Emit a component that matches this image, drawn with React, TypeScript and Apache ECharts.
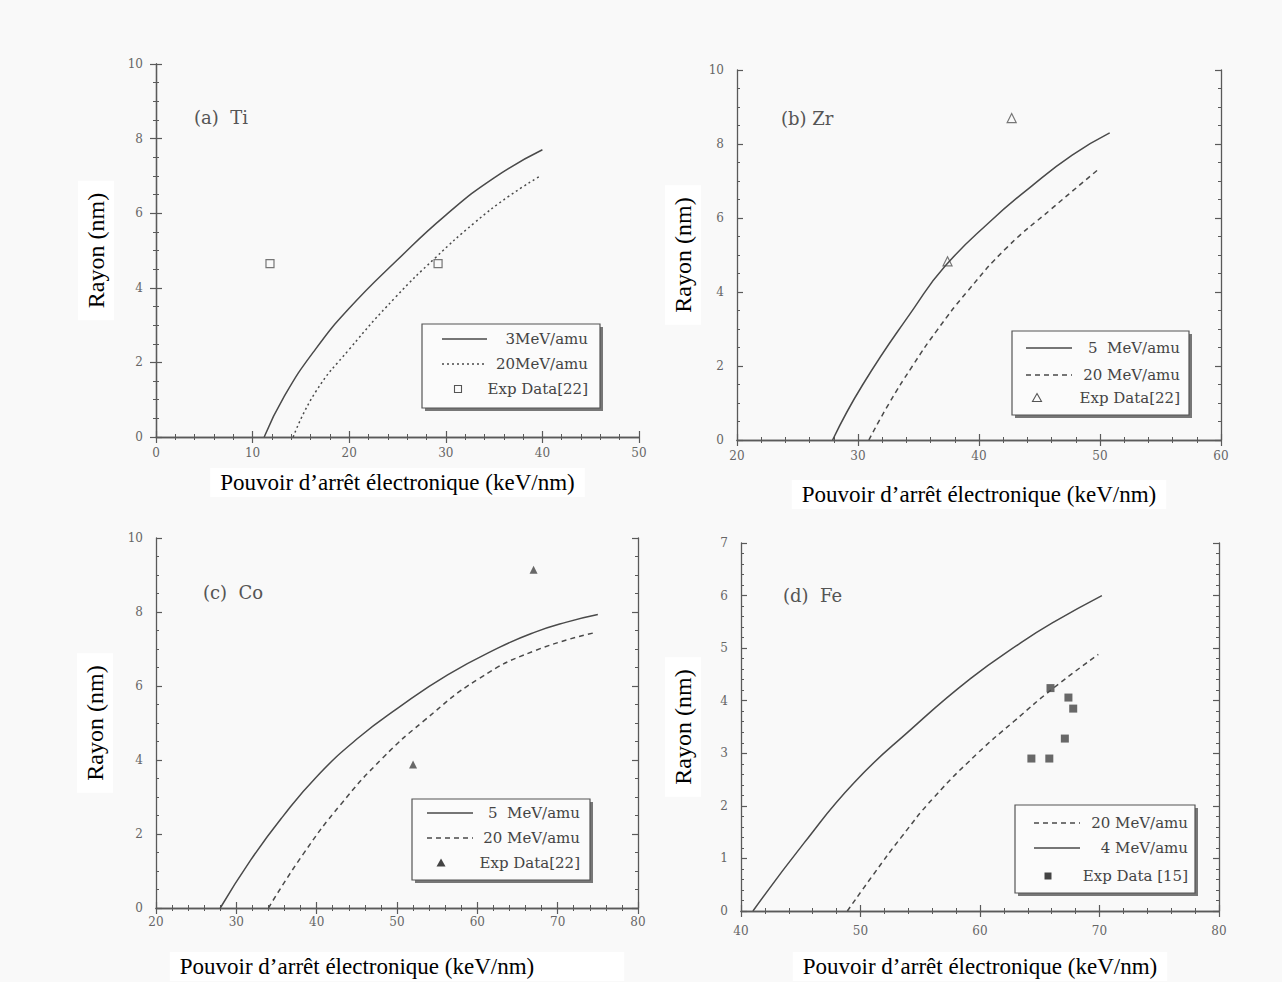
import React, { useEffect, useRef } from "react";
import * as echarts from "echarts";

// ---------- data ----------
// (a) Ti
const tiSolid3 = [[11.2, 0], [13.3, 1.1], [16.5, 2.35], [20, 3.45], [25, 4.75], [30, 5.95], [35, 6.95], [40, 7.7]];
const tiDot20 = [[14.2, 0], [16.5, 1.2], [20, 2.35], [24.8, 3.75], [28.9, 4.8], [33, 5.75], [36.5, 6.45], [39.8, 7.0]];
const tiExp = [[11.8, 4.65], [29.2, 4.65]];
// (b) Zr
const zrSolid5 = [[27.9, 0], [30.4, 1.5], [34.6, 3.55], [37.2, 4.7], [40.9, 5.9], [44.3, 6.85], [47.7, 7.7], [50.8, 8.3]];
const zrDash20 = [[30.9, 0], [32.5, 0.95], [34.5, 2.0], [36.5, 2.95], [39, 4.0], [42.3, 5.2], [46, 6.25], [50, 7.35]];
const zrExp = [[42.7, 8.7], [37.4, 4.83]];
// (c) Co
const coSolid5 = [[28, 0], [31.8, 1.3], [35.7, 2.45], [40, 3.55], [45.2, 4.6], [50.1, 5.4], [56.3, 6.3], [62.8, 7.05], [67.1, 7.45], [71, 7.72], [75, 7.93]];
const coDash20 = [[34, 0], [38.3, 1.45], [43, 2.8], [48.2, 4.05], [53.3, 5.05], [60.2, 6.2], [67.1, 6.95], [74.8, 7.45]];
const coExp = [[67.0, 9.14], [52.0, 3.88]];
// (d) Fe
const feDash20 = [[48.9, 0], [51.1, 0.7], [53.4, 1.4], [56.1, 2.15], [59.8, 3.0], [62.8, 3.6], [66.2, 4.25], [69.9, 4.88]];
const feSolid4 = [[41.0, 0], [45.3, 1.3], [49.5, 2.45], [54.2, 3.45], [59.2, 4.42], [63.4, 5.1], [66.2, 5.5], [70.2, 6.0]];
const feExp = [[65.9, 4.24], [67.4, 4.06], [67.8, 3.85], [67.1, 3.28], [64.3, 2.9], [65.8, 2.9]];

// legend labels per panel (solid/dashed/markers order as in the reference)
const legendA = ["3MeV/amu", "20MeV/amu", "Exp Data[22]"];
const legendB = ["5  MeV/amu", "20 MeV/amu", "Exp Data[22]"];
const legendC = ["5  MeV/amu", "20 MeV/amu", "Exp Data[22]"];
const legendD = ["20 MeV/amu", "4 MeV/amu", "Exp Data [15]"];

const panelLabels = ["(a)  Ti", "(b) Zr", "(c)  Co", "(d)  Fe"];
const xTitle = "Pouvoir d\u2019arr\u00eat \u00e9lectronique (keV/nm)";
const yTitle = "Rayon (nm)";

// ---------- layout ----------
const grids = [
  { left: 156, top: 64, width: 483, height: 373 },
  { left: 737, top: 70, width: 484, height: 370 },
  { left: 156, top: 538, width: 482, height: 371 },
  { left: 741, top: 543, width: 478, height: 369 },
];
const xRanges = [[0, 50], [20, 60], [20, 80], [40, 80]];
const yRanges = [[0, 10, 2], [0, 10, 2], [0, 10, 2], [0, 7, 1]];
const yNameGap = [42, 36, 43, 40];
const xNameGap = [31, 40, 44, 41];
const xLabelMargin = [10, 10, 8, 14];

const SERIF = "'Liberation Serif', 'DejaVu Serif', serif";
const SCAN = "'DejaVu Serif', 'Liberation Serif', serif";
const AX = "#5a5a5a";
const LINE = "#4a4a4a";
const BG = "#f9f9f9";

const styleKinds: any = {
  solid: null,
  dot: [2, 3],
  dash: [5, 4],
};

// legend boxes: box rect, row y's, sample x-range, text right edge, marker x
const legendBoxes = [
  { x: 422, y: 324, w: 178, h: 84, rows: [339, 364, 389], sx: [442, 487], tr: 588, mx: 458 },
  { x: 1012, y: 331, w: 177, h: 84, rows: [348, 375, 398], sx: [1026, 1072], tr: 1180, mx: 1037 },
  { x: 412, y: 799, w: 178, h: 81, rows: [813, 838, 863], sx: [427, 473], tr: 580, mx: 441 },
  { x: 1015, y: 805, w: 180, h: 88, rows: [823, 848, 876], sx: [1034, 1080], tr: 1188, mx: 1048 },
];

function buildOption() {
  const xAxis: any[] = [];
  const yAxis: any[] = [];
  grids.forEach((g, i) => {
    const [xmin, xmax] = xRanges[i];
    const [ymin, ymax, yint] = yRanges[i];
    const common = {
      gridIndex: i,
      splitLine: { show: false },
      axisLine: { show: true, lineStyle: { color: AX, width: 1.3 } },
      axisTick: { show: true, inside: true, length: 6, lineStyle: { color: AX, width: 1.2 } },
      minorTick: { show: true, splitNumber: 5, length: 3, lineStyle: { color: AX, width: 1 } },
    };
    xAxis.push({
      ...common,
      type: "value",
      position: "bottom",
      min: xmin,
      max: xmax,
      interval: 10,
      axisLabel: { color: "#666", fontFamily: SCAN, fontSize: 12, margin: xLabelMargin[i], showMinLabel: true, showMaxLabel: true },
      name: xTitle,
      nameLocation: "middle",
      nameGap: xNameGap[i],
      nameTextStyle: {
        color: "#000",
        fontFamily: SERIF,
        fontSize: 23,
        backgroundColor: "#ffffff",
        padding: i === 2 ? [3, 90, 3, 10] : [3, 10, 3, 10],
      },
    });
    xAxis.push({
      ...common,
      type: "value",
      position: "top",
      min: xmin,
      max: xmax,
      interval: 10,
      axisLabel: { show: false },
    });
    yAxis.push({
      ...common,
      type: "value",
      position: "left",
      min: ymin,
      max: ymax,
      interval: yint,
      minorTick: { ...common.minorTick, splitNumber: i === 3 ? 5 : 4 },
      axisLabel: { color: "#666", fontFamily: SCAN, fontSize: 12, margin: 13 },
      name: yTitle,
      nameLocation: "middle",
      nameGap: yNameGap[i],
      nameTextStyle: {
        color: "#000",
        fontFamily: SERIF,
        fontSize: 24,
        backgroundColor: "#ffffff",
        padding: [6, 12, 6, 12],
      },
    });
    yAxis.push({
      ...common,
      type: "value",
      position: "right",
      min: ymin,
      max: ymax,
      interval: yint,
      minorTick: { ...common.minorTick, splitNumber: i === 3 ? 5 : 4 },
      axisLabel: { show: false },
    });
  });

  const lineS = (name: string, gi: number, data: number[][], kind: string) => ({
    name,
    type: "line",
    xAxisIndex: gi * 2,
    yAxisIndex: gi * 2,
    data,
    smooth: true,
    symbol: "none",
    lineStyle: { color: LINE, width: 1.5, type: styleKinds[kind] || "solid" },
  });
  const scatS = (name: string, gi: number, data: number[][], symbol: string, open: boolean, size: number) => ({
    name,
    type: "scatter",
    xAxisIndex: gi * 2,
    yAxisIndex: gi * 2,
    data,
    symbol,
    symbolSize: size,
    itemStyle: open
      ? { color: BG, borderColor: "#555", borderWidth: 1.2 }
      : { color: "#444", borderColor: "#444", borderWidth: 0 },
  });

  const panels = [
    { labels: legendA, kinds: ["solid", "dot"], datas: [tiSolid3, tiDot20], exp: tiExp, sym: "rect", open: true, size: 8 },
    { labels: legendB, kinds: ["solid", "dash"], datas: [zrSolid5, zrDash20], exp: zrExp, sym: "triangle", open: true, size: 9 },
    { labels: legendC, kinds: ["solid", "dash"], datas: [coSolid5, coDash20], exp: coExp, sym: "triangle", open: false, size: 8 },
    { labels: legendD, kinds: ["dash", "solid"], datas: [feDash20, feSolid4], exp: feExp, sym: "rect", open: false, size: 8 },
  ];

  const series: any[] = [];
  const graphic: any[] = [];
  panels.forEach((p, i) => {
    series.push(lineS(p.labels[0], i, p.datas[0], p.kinds[0]));
    series.push(lineS(p.labels[1], i, p.datas[1], p.kinds[1]));
    series.push(scatS(p.labels[2], i, p.exp, p.sym, p.open, p.size));

    // legend box drawn as graphic
    const b = legendBoxes[i];
    graphic.push({
      type: "rect",
      shape: { x: b.x + 3, y: b.y + 3, width: b.w, height: b.h },
      style: { fill: "#777" },
      silent: true,
    });
    graphic.push({
      type: "rect",
      shape: { x: b.x, y: b.y, width: b.w, height: b.h },
      style: { fill: "#fbfbfb", stroke: "#555", lineWidth: 1.2 },
      silent: true,
    });
    for (let k = 0; k < 2; k++) {
      const dash = styleKinds[p.kinds[k]];
      graphic.push({
        type: "line",
        shape: { x1: b.sx[0], y1: b.rows[k], x2: b.sx[1], y2: b.rows[k] },
        style: { stroke: LINE, lineWidth: 1.4, lineDash: dash || null },
        silent: true,
      });
    }
    const my = b.rows[2];
    if (p.sym === "rect") {
      graphic.push({
        type: "rect",
        shape: { x: b.mx - 3.5, y: my - 3.5, width: 7, height: 7 },
        style: p.open ? { fill: "#fbfbfb", stroke: "#555", lineWidth: 1.1 } : { fill: "#444" },
        silent: true,
      });
    } else {
      graphic.push({
        type: "polygon",
        shape: { points: [[b.mx, my - 4.5], [b.mx + 4.5, my + 3.5], [b.mx - 4.5, my + 3.5]] },
        style: p.open ? { fill: "#fbfbfb", stroke: "#555", lineWidth: 1.1 } : { fill: "#444" },
        silent: true,
      });
    }
    p.labels.forEach((t, k) => {
      graphic.push({
        type: "text",
        x: b.tr,
        y: b.rows[k],
        style: { text: t, fill: "#444", font: `15px ${SCAN}`, textAlign: "right", textVerticalAlign: "middle" },
        silent: true,
      });
    });
  });

  const labelPos = [
    { x: 194, y: 117 },
    { x: 781, y: 118 },
    { x: 203, y: 592 },
    { x: 783, y: 595 },
  ];
  panelLabels.forEach((t, i) => {
    graphic.push({
      type: "text",
      x: labelPos[i].x,
      y: labelPos[i].y,
      style: { text: t, fill: "#555", font: `18px ${SCAN}`, textVerticalAlign: "middle" },
      silent: true,
    });
  });

  return {
    animation: false,
    backgroundColor: BG,
    grid: grids.map((g) => ({ ...g, containLabel: false, show: false })),
    xAxis,
    yAxis,
    series,
    graphic,
  };
}

export default function App() {
  const ref = useRef<HTMLDivElement>(null);
  useEffect(() => {
    if (!ref.current) return;
    const chart = echarts.init(ref.current, undefined, { renderer: "svg" });
    chart.setOption(buildOption() as any);
    return () => chart.dispose();
  }, []);
  return (
    <div
      ref={ref}
      style={{ position: "fixed", left: 0, top: 0, width: 1282, height: 982 }}
    />
  );
}
